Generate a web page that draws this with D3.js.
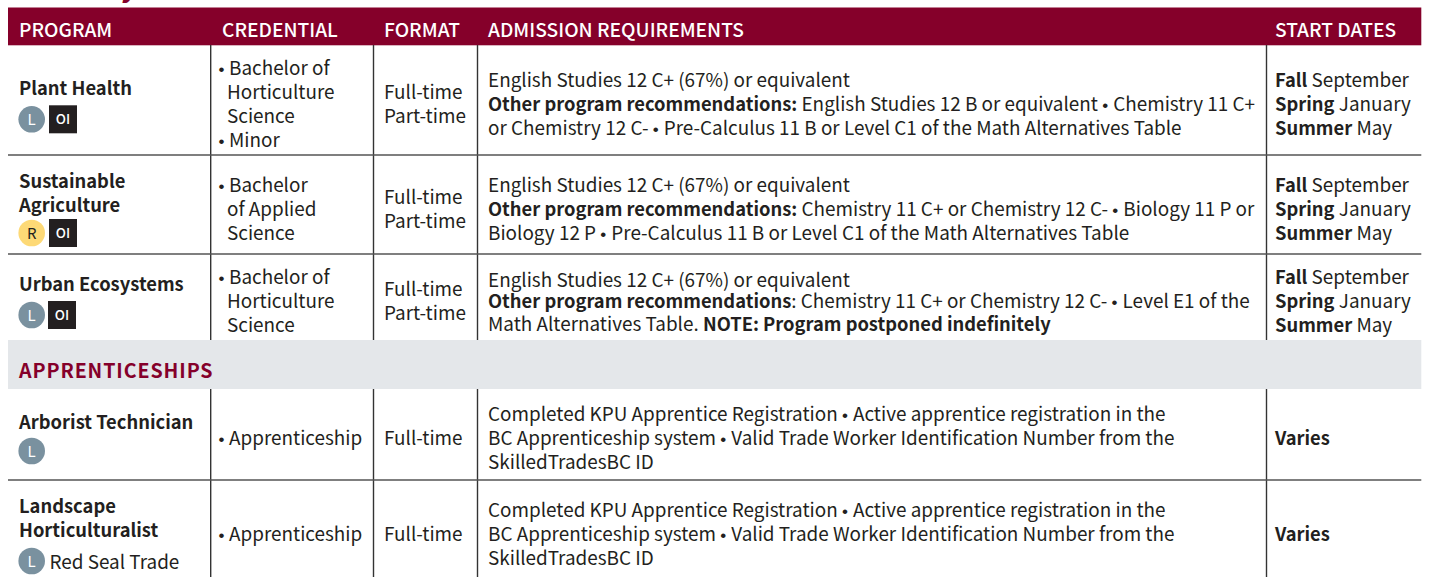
<!DOCTYPE html>
<html><head><meta charset="utf-8">
<script src="https://cdn.jsdelivr.net/npm/d3@7/dist/d3.min.js"></script>
<style>html,body{margin:0;padding:0;background:#fff}svg{display:block}</style>
</head><body><div id="c"></div>
<script>
const headers = ["PROGRAM","CREDENTIAL","FORMAT","ADMISSION REQUIREMENTS","START DATES"];
const programs = [["Plant Health"],["Sustainable","Agriculture"],["Urban Ecosystems"],["Arborist Technician"],["Landscape","Horticulturalist"]];
const badges = [["L","OI"],["R","OI"],["L","OI"],["L"],["L"]];
const badgeNotes = ["","","","","Red Seal Trade"];
const credentials = [
 ["•|Bachelor of","Horticulture","Science","•|Minor"],
 ["•|Bachelor","of Applied","Science"],
 ["•|Bachelor of","Horticulture","Science"],
 ["•|Apprenticeship"],["•|Apprenticeship"]];
const formats = [["Full-time","Part-time"],["Full-time","Part-time"],["Full-time","Part-time"],["Full-time"],["Full-time"]];
const sectionLabel = "APPRENTICESHIPS";
const requirements = [
 ["English Studies 12 C+ (67%) or equivalent","**Other program recommendations:** English Studies 12 B or equivalent • Chemistry 11 C+","or Chemistry 12 C- • Pre-Calculus 11 B or Level C1 of the Math Alternatives Table"],
 ["English Studies 12 C+ (67%) or equivalent","**Other program recommendations:** Chemistry 11 C+ or Chemistry 12 C- • Biology 11 P or","Biology 12 P • Pre-Calculus 11 B or Level C1 of the Math Alternatives Table"],
 ["English Studies 12 C+ (67%) or equivalent","**Other program recommendations**: Chemistry 11 C+ or Chemistry 12 C- • Level E1 of the","Math Alternatives Table. **NOTE: Program postponed indefinitely**"],
 ["Completed KPU Apprentice Registration • Active apprentice registration in the","BC Apprenticeship system • Valid Trade Worker Identification Number from the","SkilledTradesBC ID"],
 ["Completed KPU Apprentice Registration • Active apprentice registration in the","BC Apprenticeship system • Valid Trade Worker Identification Number from the","SkilledTradesBC ID"]];
const dateLines = ["**Fall** September","**Spring** January","**Summer** May"];
const starts = [dateLines,dateLines,dateLines,["**Varies**"],["**Varies**"]];

// layout
const W=1429,H=577,FONT="'Noto Sans CJK SC','Noto Sans',sans-serif",BUL="'Liberation Sans',sans-serif";
const left=8,right=1421.3,colX=[left,210.7,373.5,477.5,1266.5,right];
const rows=[[45,155],[155,254],[254,340],[389,480],[480,577]];
const textX=[19,222,384,488,1275];
const maroon="#85002a",ink="#231f20",fs=18.9,fb=18.35;
const svg=d3.select("#c").append("svg").attr("width",W).attr("height",H).attr("font-family",FONT).attr("font-size",fs).attr("fill",ink);

function rich(sel,x,y,s){
  const t=sel.append("text").attr("x",x).attr("y",y);
  s.split("**").forEach((p,i)=>{
    if(!p) return;
    p.split("•").forEach((q,j)=>{
      if(j) t.append("tspan").attr("font-family",BUL).attr("font-size",17).attr("letter-spacing",0.8).text("•");
      if(q) t.append("tspan").attr("font-weight",i%2?700:400).attr("font-size",i%2?fb:fs).text(q);
    });
  });
  return t;
}
svg.append("text").attr("x",121).attr("y",-3).attr("fill",maroon).attr("font-size",28).attr("font-weight",700).text("y");
svg.append("rect").attr("x",left).attr("y",7.5).attr("width",right-left).attr("height",37.8).attr("fill",maroon);
svg.selectAll(".h").data(headers).join("text").attr("x",(d,i)=>textX[i]).attr("y",36.7).attr("fill","#fff").attr("font-weight",500).attr("font-size",19.2).text(d=>d);
svg.append("rect").attr("x",left).attr("y",340).attr("width",right-left).attr("height",49).attr("fill","#e4e7ea");
svg.append("text").attr("x",19).attr("y",378).attr("fill",maroon).attr("font-weight",700).attr("font-size",19.6).attr("letter-spacing",0.9).text(sectionLabel);
rows.forEach(([a,b])=>colX.slice(1,5).forEach(x=>svg.append("line").attr("x1",x).attr("x2",x).attr("y1",a).attr("y2",b).attr("stroke","#333").attr("stroke-width",1.4)));
[155,254,480].forEach(y=>svg.append("line").attr("x1",left).attr("x2",right).attr("y1",y).attr("y2",y).attr("stroke","#555").attr("stroke-width",1.5));

const progBase=[95,188,291,428.5,512.5],credBase=[75,192,284,445,541],fmtBase=[99,204,296,445,541];
const reqBase=[[87,111,135],[192,216,240],[287,308,331],[421,445,469],[517,541,565]];
const dateBase=[87,192,284,445,541];
const badgeY=[119.3,233,315,451,561],oiX=[49,49,48];
rows.forEach((r,i)=>{
  const g=svg.append("g");
  programs[i].forEach((l,k)=>g.append("text").attr("x",19).attr("y",progBase[i]+k*24).attr("font-weight",700).attr("font-size",fb).text(l));
  const by=badgeY[i];
  badges[i].forEach(b=>{
    if(b=="OI"){
      g.append("rect").attr("x",oiX[i]).attr("y",by-14).attr("width",28).attr("height",28).attr("fill",ink);
      g.append("text").attr("x",oiX[i]+14).attr("y",by+5).attr("text-anchor","middle").attr("fill","#fff").attr("font-size",13.5).attr("font-weight",500).text(b);
    } else {
      const lab=b=="L";
      g.append("circle").attr("cx",31.7).attr("cy",by).attr("r",13.3).attr("fill",lab?"#7a919f":"#fdd976");
      g.append("text").attr("x",31.7).attr("y",by+5.5).attr("text-anchor","middle").attr("fill",lab?"#fff":ink).attr("font-size",15).text(b);
    }
  });
  if(badgeNotes[i]) g.append("text").attr("x",49.5).attr("y",by+7.7).text(badgeNotes[i]);
  credentials[i].forEach((l,k)=>{
    const y=credBase[i]+k*24;
    if(l.includes("|")){ const [m,t]=l.split("|");
      g.append("text").attr("x",218.5).attr("y",y).attr("font-family",BUL).attr("font-size",17).text(m);
      g.append("text").attr("x",229).attr("y",y).text(t);
    } else g.append("text").attr("x",227).attr("y",y).text(l);
  });
  formats[i].forEach((l,k)=>g.append("text").attr("x",384).attr("y",fmtBase[i]+k*24).text(l));
  requirements[i].forEach((l,k)=>rich(g,488,reqBase[i][k],l));
  starts[i].forEach((l,k)=>rich(g,1275,dateBase[i]+k*24,l));
});
</script></body></html>
